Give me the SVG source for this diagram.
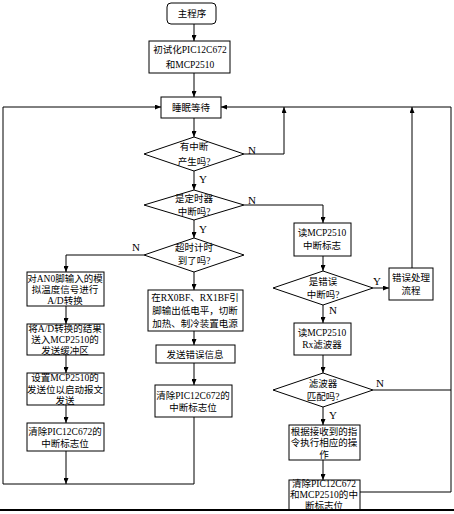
<svg xmlns="http://www.w3.org/2000/svg" width="454" height="514" viewBox="0 0 454 514">
<style>
.b{fill:#fff;stroke:#000;stroke-width:1}
.t{font-family:"Liberation Serif","Noto Sans CJK SC",serif;font-size:9.5px;fill:#000;text-anchor:middle;dominant-baseline:central}
.l{font-family:"Liberation Serif",serif;font-size:11px;fill:#000;text-anchor:middle;dominant-baseline:central}
.c{fill:none;stroke:#000;stroke-width:1}
</style>
<defs>
<marker id="a" markerWidth="6" markerHeight="5" refX="6" refY="2.5" orient="auto" markerUnits="userSpaceOnUse">
<path d="M0,0 L6,2.5 L0,5 z" fill="#000"/>
</marker>
</defs>
<rect x="0" y="0" width="454" height="514" fill="#fff"/>
<g id="connectors">
<path class="c" d="M194,24 V41" marker-end="url(#a)"/>
<path class="c" d="M194,73 V97" marker-end="url(#a)"/>
<path class="c" d="M194,118 V137" marker-end="url(#a)"/>
<path class="c" d="M194,171 V190" marker-end="url(#a)"/>
<path class="c" d="M244,154 H284 V107" marker-end="url(#a)"/>
<path class="c" d="M194,220 V238" marker-end="url(#a)"/>
<path class="c" d="M244,205 H323 V223" marker-end="url(#a)"/>
<path class="c" d="M144,255 H66 V272" marker-end="url(#a)"/>
<path class="c" d="M194,272 V290" marker-end="url(#a)"/>
<path class="c" d="M66,306 V324" marker-end="url(#a)"/>
<path class="c" d="M66,355 V373" marker-end="url(#a)"/>
<path class="c" d="M66,405 V423" marker-end="url(#a)"/>
<path class="c" d="M66,451 V484" marker-end="url(#a)"/>
<path class="c" d="M194,331 V345" marker-end="url(#a)"/>
<path class="c" d="M194,363 V385" marker-end="url(#a)"/>
<path class="c" d="M194,417 V484 H3 V107 H161" marker-end="url(#a)"/>
<path class="c" d="M323,256 V271" marker-end="url(#a)"/>
<path class="c" d="M373,288 H389" marker-end="url(#a)"/>
<path class="c" d="M412,268 V107" marker-end="url(#a)"/>
<path class="c" d="M323,305 V323" marker-end="url(#a)"/>
<path class="c" d="M323,355 V373" marker-end="url(#a)"/>
<path class="c" d="M373,390 H451"/>
<path class="c" d="M323,407 V425" marker-end="url(#a)"/>
<path class="c" d="M323,460 V480" marker-end="url(#a)"/>
<path class="c" d="M360,492 H451 V107 H221" marker-end="url(#a)"/>
<text class="l" x="252" y="150">N</text>
<text class="l" x="203" y="179">Y</text>
<text class="l" x="252" y="200">N</text>
<text class="l" x="203" y="229">Y</text>
<text class="l" x="136" y="247">N</text>
<text class="l" x="377" y="281">Y</text>
<text class="l" x="333" y="310">N</text>
<text class="l" x="380" y="383">N</text>
<text class="l" x="333" y="415">Y</text>
</g>
<g id="start"><rect class="b" x="167" y="3" width="49" height="21" rx="4"/><text class="t" x="192" y="14">主程序</text></g>
<g id="init"><rect class="b" x="149" y="41" width="81" height="32"/><text class="t" x="190" y="50">初试化PIC12C672</text><text class="t" x="190" y="65">和MCP2510</text></g>
<g id="sleep"><rect class="b" x="161" y="97" width="60" height="21"/><text class="t" x="191" y="108">睡眠等待</text></g>
<g id="d1"><polygon class="b" points="194,137 244,154 194,171 144,154"/><text class="t" x="194" y="147">有中断</text><text class="t" x="194" y="162">产生吗?</text></g>
<g id="d2"><polygon class="b" points="194,190 244,205 194,220 144,205"/><text class="t" x="194" y="199">是定时器</text><text class="t" x="194" y="212">中断吗?</text></g>
<g id="d3"><polygon class="b" points="194,238 244,255 194,272 144,255"/><text class="t" x="194" y="248">超时计时</text><text class="t" x="194" y="261">到了吗?</text></g>
<g id="ad"><rect class="b" x="27" y="272" width="77" height="34"/><text class="t" x="65" y="279">对AN0脚输入的模</text><text class="t" x="65" y="290">拟温度信号进行</text><text class="t" x="65" y="301">A/D转换</text></g>
<g id="buf"><rect class="b" x="27" y="324" width="77" height="31"/><text class="t" x="65" y="329">将A/D转换的结果</text><text class="t" x="65" y="340">送入MCP2510的</text><text class="t" x="65" y="351">发送缓冲区</text></g>
<g id="send"><rect class="b" x="27" y="373" width="77" height="32"/><text class="t" x="65" y="378">设置MCP2510的</text><text class="t" x="65" y="390">发送位以启动报文</text><text class="t" x="65" y="401">发送</text></g>
<g id="clr1"><rect class="b" x="27" y="423" width="77" height="28"/><text class="t" x="65" y="432">清除PIC12C672的</text><text class="t" x="65" y="444">中断标志位</text></g>
<g id="rx"><rect class="b" x="148" y="290" width="95" height="41"/><text class="t" x="195" y="298">在RX0BF、RX1BF引</text><text class="t" x="195" y="311">脚输出低电平，切断</text><text class="t" x="195" y="324">加热、制冷装置电源</text></g>
<g id="err"><rect class="b" x="156" y="345" width="79" height="18"/><text class="t" x="195" y="355">发送错误信息</text></g>
<g id="clr2"><rect class="b" x="155" y="385" width="77" height="32"/><text class="t" x="193" y="396">清除PIC12C672的</text><text class="t" x="193" y="408">中断标志位</text></g>
<g id="rdflag"><rect class="b" x="294" y="223" width="57" height="33"/><text class="t" x="322" y="233">读MCP2510</text><text class="t" x="322" y="246">中断标志</text></g>
<g id="d4"><polygon class="b" points="323,271 373,288 323,305 273,288"/><text class="t" x="323" y="282">是错误</text><text class="t" x="323" y="295">中断吗?</text></g>
<g id="errproc"><rect class="b" x="389" y="268" width="44" height="32"/><text class="t" x="411" y="278">错误处理</text><text class="t" x="411" y="291">流程</text></g>
<g id="rdrx"><rect class="b" x="294" y="323" width="57" height="32"/><text class="t" x="322" y="333">读MCP2510</text><text class="t" x="322" y="345">Rx滤波器</text></g>
<g id="d5"><polygon class="b" points="323,373 373,390 323,407 273,390"/><text class="t" x="323" y="384">滤波器</text><text class="t" x="323" y="397">匹配吗?</text></g>
<g id="exec"><rect class="b" x="289" y="425" width="71" height="35"/><text class="t" x="324" y="432">根据接收到的指</text><text class="t" x="324" y="443">令执行相应的操</text><text class="t" x="324" y="455">作</text></g>
<g id="clr3"><rect class="b" x="289" y="480" width="71" height="30"/><text class="t" x="324" y="484">清除PIC12C672</text><text class="t" x="324" y="495" textLength="68" lengthAdjust="spacingAndGlyphs">和MCP2510的中</text><text class="t" x="324" y="506">断标志位</text></g>
<line x1="0" y1="510" x2="454" y2="510" stroke="#000" stroke-width="2"/>
</svg>
